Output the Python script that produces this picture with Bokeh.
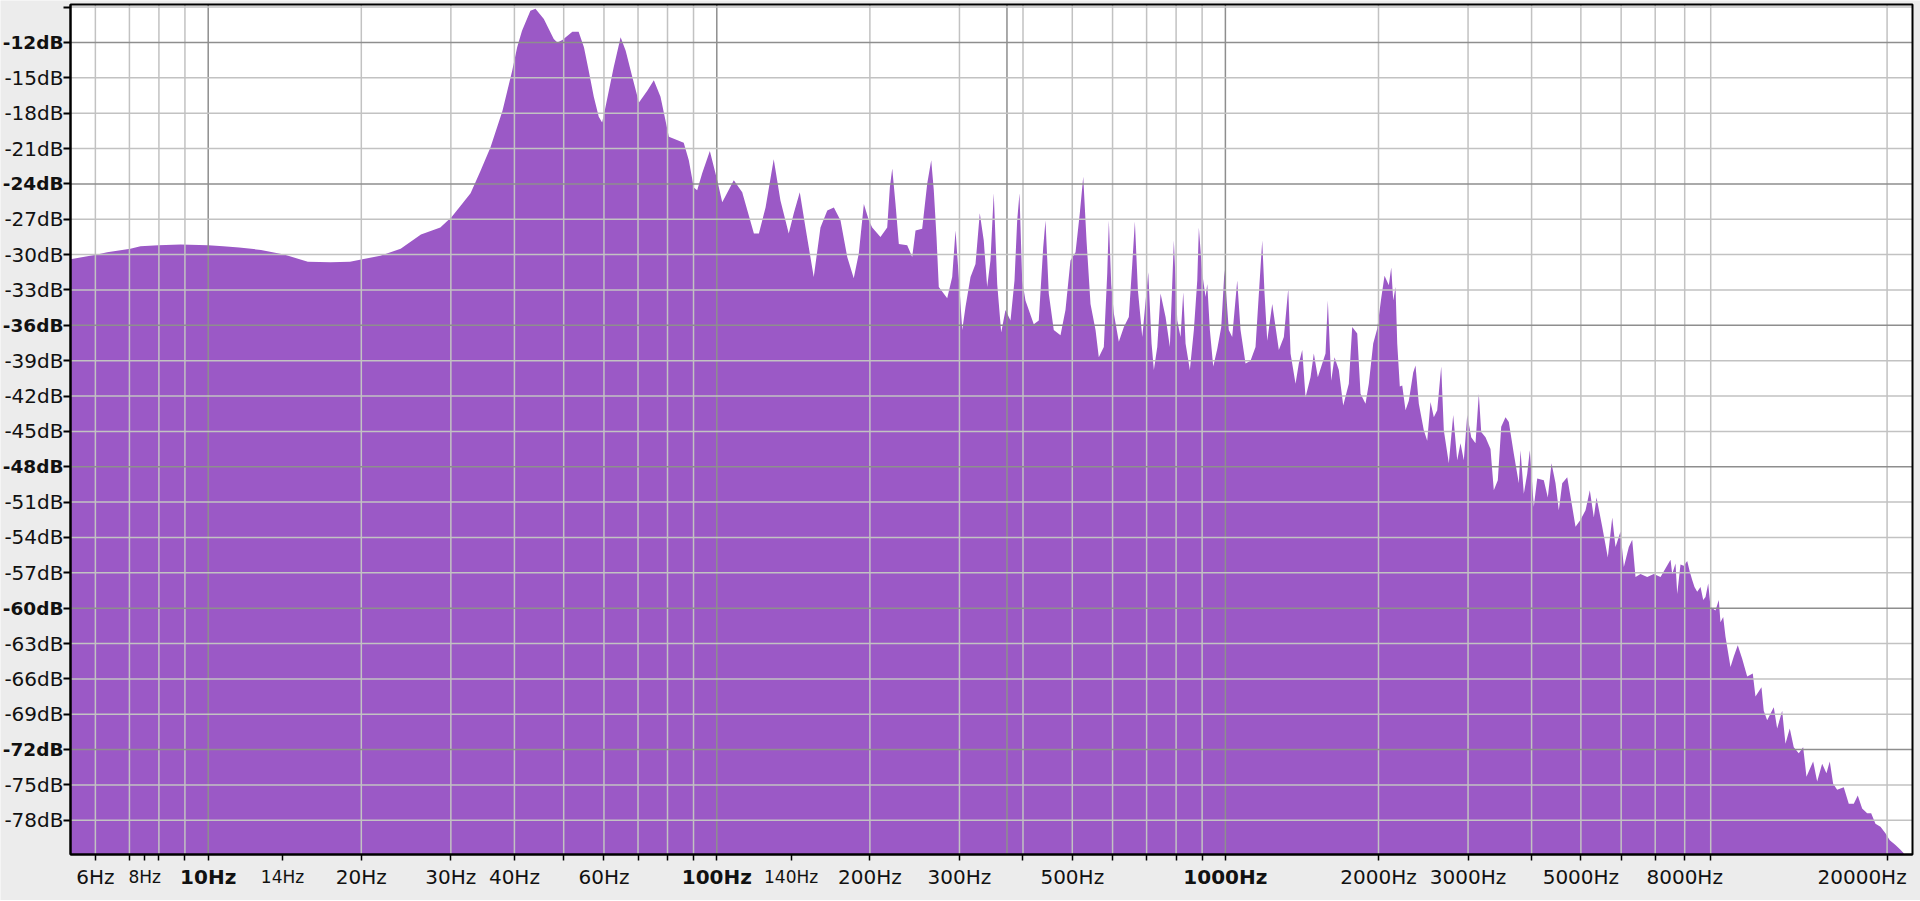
import math
from bokeh.plotting import figure
from bokeh.models import Range1d, FixedTicker, LinearAxis, LogAxis
from bokeh.embed import file_html
from bokeh.resources import INLINE

# ---------------- data ----------------
freq_hz = [
    5.36, 6.05, 6.33, 7.03, 7.36, 7.98, 8.82, 10.0, 10.7, 11.5, 12.7, 14.1, 15.7, 17.4, 19.0,
    20.1, 21.8, 23.9, 26.2, 28.6, 30.1, 31.3, 32.8, 34.3, 35.9, 37.9, 39.6, 40.5, 41.4, 43.0,
    44.0, 45.7, 47.8, 48.6, 49.7, 52.0, 53.5, 54.8, 56.0, 57.3, 58.6, 59.5, 60.4, 62.7, 64.7,
    66.2, 68.2, 70.3, 73.0, 75.2, 77.5, 78.9, 80.5, 86.1, 88.1, 90.1, 91.5, 93.6, 96.9, 100.2,
    102.5, 108.0, 112.2, 118.3, 121.0, 124.7, 129.4, 133.4, 138.5, 141.7, 145.6, 149.4, 155.1,
    159.9, 164.9, 169.9, 175.1, 180.5, 185.9, 190.2, 194.6, 199.1, 202.1, 209.8, 216.3, 218.9,
    221.3, 224.6, 228.0, 236.8, 242.2, 245.9, 253.4, 259.2, 264.0, 267.1, 270.4, 273.2, 283.8,
    290.3, 294.7, 299.1, 303.8, 308.3, 315.4, 322.6, 328.9, 334.9, 340.1, 345.2, 350.4, 355.9,
    362.4, 369.5, 378.0, 384.9, 389.6, 393.7, 398.5, 404.5, 420.0, 429.6, 438.3, 442.9, 449.5,
    459.8, 474.0, 484.8, 495.9, 507.4, 517.3, 525.4, 533.3, 543.0, 555.5, 563.8, 576.7, 585.7,
    590.0, 596.4, 603.5, 617.3, 631.5, 645.9, 656.0, 663.8, 672.9, 686.4, 705.3, 715.9, 723.4,
    734.6, 745.6, 762.7, 777.7, 791.9, 804.2, 816.3, 826.3, 835.0, 851.4, 867.0, 880.4, 886.8,
    900.6, 914.1, 921.2, 932.1, 946.5, 963.8, 981.4, 996.0, 1015.5, 1031.3, 1055.0, 1071.0,
    1095.5, 1120.5, 1146.2, 1158.2, 1181.5, 1193.9, 1208.6, 1236.3, 1254.9, 1273.8, 1303.0,
    1329.2, 1343.1, 1373.8, 1394.5, 1416.1, 1437.4, 1470.3, 1492.4, 1519.7, 1550.3, 1573.6,
    1590.1, 1614.7, 1639.0, 1671.2, 1704.8, 1748.6, 1775.7, 1816.4, 1843.7, 1885.9, 1914.3,
    1952.8, 1988.5, 2024.9, 2055.4, 2095.8, 2118.7, 2138.0, 2160.3, 2177.1, 2202.8, 2226.9,
    2260.4, 2294.4, 2340.6, 2365.1, 2400.7, 2455.6, 2493.7, 2531.2, 2569.3, 2609.1, 2656.8,
    2688.2, 2749.8, 2805.1, 2856.4, 2899.3, 2943.0, 2988.7, 3043.3, 3103.1, 3149.8, 3184.2,
    3246.8, 3321.1, 3371.1, 3432.7, 3486.0, 3554.5, 3608.0, 3690.6, 3775.1, 3804.3, 3861.6,
    3921.5, 3967.9, 4040.4, 4103.1, 4227.5, 4304.8, 4377.6, 4457.6, 4524.7, 4595.0, 4700.2,
    4807.8, 4880.2, 4991.9, 5106.2, 5206.5, 5301.7, 5366.9, 5507.2, 5648.6, 5762.2, 5849.0,
    5982.9, 6073.0, 6212.0, 6308.3, 6403.3, 6549.9, 6751.6, 6956.4, 7170.6, 7503, 7561, 7674,
    7734, 7849, 7967, 8091, 8187, 8277, 8363, 8466, 8594, 8700, 8791, 8899, 8992, 9197, 9335,
    9407, 9523, 9622, 9697, 9843, 9991, 10173, 10378, 10616, 10888, 11022, 11325, 11443, 11621,
    11974, 12160, 12438, 12625, 12873, 13108, 13408, 13678, 13884, 14311, 14573, 14906, 15199,
    15428, 15667, 15954, 16438, 16815, 17200, 17514, 17866, 18275, 18609, 18975, 19409, 19853,
    20244, 20774, 21250, 21570,
]
level_db = [
    -30.4, -30.0, -29.8, -29.5, -29.3, -29.2, -29.15, -29.2, -29.3, -29.4, -29.6, -30.0, -30.6, -30.65, -30.6,
    -30.4, -30.1, -29.5, -28.3, -27.7, -26.8, -25.9, -24.8, -22.9, -20.9, -17.8, -14.4, -12.4, -11.0, -9.3,
    -9.15, -10.0, -11.7, -12.0, -11.8, -11.1, -11.1, -12.4, -14.4, -16.6, -18.3, -18.8, -17.5, -14.1, -11.55,
    -12.7, -14.9, -17.1, -16.1, -15.2, -16.6, -18.2, -20.0, -20.5, -22.0, -24.3, -24.55, -23.1, -21.2, -23.7,
    -25.55, -23.7, -24.7, -28.2, -28.2, -26.0, -21.9, -25.4, -28.2, -26.5, -24.7, -27.7, -31.9,
    -27.7, -26.25, -26.0, -27.1, -30.2, -32.0, -29.9, -25.7, -27.1, -27.7, -28.5, -27.7, -24.3,
    -22.7, -25.7, -29.1, -29.2, -30.2, -27.95, -27.8, -24.0, -22.0, -24.55, -28.5, -32.75, -33.7,
    -31.9, -27.95, -31.9, -36.4, -34.45, -31.9, -30.8, -26.5, -28.8, -32.75, -30.5, -24.8, -32.5,
    -36.6, -34.7, -35.6, -32.2, -27.1, -24.8, -32.2, -33.9, -35.9, -35.6, -29.4, -27.1, -33.3,
    -36.4, -36.85, -34.7, -30.5, -29.8, -26.5, -23.4, -28.8, -34.2, -36.4, -38.7, -37.85, -31.6,
    -27.1, -32.5, -35.0, -37.4, -36.15, -35.3, -30.8, -27.2, -33.0, -37.0, -31.5, -37.55, -39.8,
    -37.85, -33.3, -35.3, -37.85, -28.8, -35.6, -37.0, -33.2, -37.55, -39.8, -36.4, -32.2, -27.7,
    -31.6, -33.6, -32.5, -36.4, -39.5, -38.0, -36.15, -31.3, -36.4, -37.0, -32.2, -36.4,
    -39.25, -39.0, -37.85, -34.7, -28.8, -33.3, -37.3, -34.2, -36.15, -38.1, -37.0,
    -32.9, -38.4, -40.95, -39.25, -38.1, -42.1, -40.4, -38.4, -40.4, -39.25, -38.4,
    -33.9, -40.7, -38.7, -39.8, -42.8, -40.95, -36.15, -36.7, -41.8, -42.65, -40.95,
    -37.55, -36.3, -33.7, -31.8, -32.6, -31.1, -33.9, -32.75, -37.55, -41.2, -41.1,
    -43.2, -42.4, -40.0, -39.4, -42.65, -44.9, -45.8, -42.5, -43.8, -43.2, -39.5,
    -44.9, -47.7, -43.6, -47.45, -46.0, -47.45, -43.6, -45.5, -46.0, -41.8, -45.05,
    -45.5, -46.5, -50.0, -49.15, -44.6, -43.8, -44.2, -46.9, -49.4, -46.6, -50.3,
    -48.6, -46.6, -51.4, -49.0, -49.15, -50.6, -47.7, -49.4, -51.7, -49.4, -48.9,
    -51.4, -53.1, -52.5, -51.7, -50.0, -52.3, -50.6, -53.1, -55.7, -52.3, -54.8,
    -53.5, -56.5, -54.8, -54.2, -57.35, -57.1, -57.35, -57.1, -57.35, -55.9, -57.1, -56.2,
    -58.8, -56.3, -56.4, -56.0, -56.9, -57.6, -58.2, -58.6, -58.2, -59.3, -59.05, -57.9, -59.9, -60.2, -59.3,
    -61.2, -60.75, -62.4, -63.3, -65.0, -64.1, -63.15, -64.3, -65.8, -65.55, -67.5, -66.7, -68.7, -69.5,
    -68.4, -70.2, -68.7, -71.5, -70.2, -71.8, -72.3, -71.8, -74.3, -73.0, -74.7, -73.2, -74.0,
    -73.0, -74.9, -75.4, -75.2, -76.6, -76.6, -75.9, -77.0, -77.4, -77.4, -78.3, -78.55, -79.1,
    -79.7, -80.1, -80.5, -80.8,
]

# axis ticks, labels and grid lines
x_ticks_hz = [6, 7, 7.5, 8, 9, 10, 14, 20, 30, 40, 50, 60, 70, 80, 90, 100, 140, 200, 300,
              400, 500, 600, 700, 800, 900, 1000, 2000, 3000, 4000, 5000, 6000, 7000, 8000,
              9000, 20000]
x_plain_labels = {6: "6Hz", 20: "20Hz", 30: "30Hz", 40: "40Hz", 60: "60Hz", 200: "200Hz",
                  300: "300Hz", 500: "500Hz", 2000: "2000Hz", 3000: "3000Hz",
                  5000: "5000Hz", 8000: "8000Hz"}
x_small_labels = {7.5: "8Hz", 14: "14Hz", 140: "140Hz"}
x_bold_labels = {10: "10Hz", 100: "100Hz", 1000: "1000Hz"}
x_edge_labels = {20000: "20000Hz"}   # drawn shifted left so that it fits in the window
x_grid_light = [6, 7, 8, 9, 20, 30, 40, 50, 60, 70, 80, 90, 200, 300, 400, 500, 600, 700,
                800, 900, 2000, 3000, 4000, 5000, 6000, 7000, 8000, 9000, 20000]
x_grid_dark = [10, 100, 372, 1000]

y_ticks_db = [-78, -75, -72, -69, -66, -63, -60, -57, -54, -51, -48, -45, -42, -39, -36,
              -33, -30, -27, -24, -21, -18, -15, -12, -9]
y_bold_db = [-72, -60, -48, -36, -24, -12]
y_hidden_db = [-9]

# plot area (data range) and its place on the 1920x900 canvas
X_START, X_END = 5.361, 22439
Y_START, Y_END = -80.9, -8.78
CANVAS_W, CANVAS_H = 1920, 900
AREA_L, AREA_R, AREA_T, AREA_B = 70, 1912, 4, 854   # pixel edges of the plot area
EDGE_LABEL_FACTOR = 0.893   # last frequency label sits left of its tick

FILL = "#9b59c6"
GRID_LIGHT = "#c2c2c2"
GRID_DARK = "#8e8e8e"
BG = "#ececec"
FONT = "DejaVu Sans"
TXT = "#111111"
FS = "20px"
FS_BOLD_Y = "18.5px"
FS_SMALL = "17px"
TICK_OUT_X, STANDOFF_X = 6, 4
TICK_OUT_Y, STANDOFF_Y = 7, 0

# view ranges that extend the plot area over the whole canvas (for labels outside it)
lx0, lx1 = math.log10(X_START), math.log10(X_END)
dx = (lx1 - lx0) / (AREA_R - AREA_L)
view_x = Range1d(10 ** (lx0 - AREA_L * dx), 10 ** (lx1 + (CANVAS_W - AREA_R) * dx))
dy = (Y_END - Y_START) / (AREA_B - AREA_T)
view_y = Range1d(Y_START - (CANVAS_H - AREA_B) * dy, Y_END + AREA_T * dy)

p = figure(width=CANVAS_W, height=CANVAS_H, x_axis_type="log",
           x_range=view_x, y_range=view_y,
           x_axis_location=None, y_axis_location=None,
           output_backend="svg", toolbar_location=None,
           min_border_left=0, min_border_right=0, min_border_top=0, min_border_bottom=0)
p.background_fill_color = BG
p.border_fill_color = BG
p.outline_line_color = None
p.xgrid.visible = False
p.ygrid.visible = False

# white plot area
p.quad(left=[X_START], right=[X_END], bottom=[Y_START], top=[Y_END],
       fill_color="white", line_color=None)

# spectrum
p.varea(x=freq_hz, y1=[Y_START] * len(freq_hz), y2=level_db, fill_color=FILL, fill_alpha=1.0)

# grid lines on top of the spectrum, restricted to the plot area
y_light = [t for t in y_ticks_db if t not in y_bold_db]
for xs_, col in [(x_grid_light, GRID_LIGHT), (x_grid_dark, GRID_DARK)]:
    p.segment(x0=xs_, x1=xs_, y0=[Y_START] * len(xs_), y1=[Y_END] * len(xs_),
              line_color=col, line_width=1.5)
for ys_, col in [(y_light, GRID_LIGHT), (y_bold_db, GRID_DARK)]:
    p.segment(x0=[X_START] * len(ys_), x1=[X_END] * len(ys_), y0=ys_, y1=ys_,
              line_color=col, line_width=1.5)

# frame border
p.quad(left=[X_START], right=[X_END], bottom=[Y_START], top=[Y_END],
       fill_color=None, line_color="black", line_width=2)


def style_axis(ax, tick_out, standoff, size, weight, line=True, ticks=True, tick_w=1.5):
    ax.axis_line_color = "black" if line else None
    ax.axis_line_width = 2
    ax.major_tick_line_color = "black" if ticks else None
    ax.major_tick_line_width = tick_w
    ax.major_tick_in = 0
    ax.major_tick_out = tick_out
    ax.minor_tick_line_color = None
    ax.major_label_standoff = standoff
    ax.major_label_text_font = FONT
    ax.major_label_text_font_size = size
    ax.major_label_text_font_style = weight
    ax.major_label_text_color = TXT


def x_axis(ticks, labels, size, weight, standoff, line=False, tick_marks=False):
    ax = LogAxis(fixed_location=Y_START, bounds=(X_START, X_END),
                 ticker=FixedTicker(ticks=ticks),
                 major_label_overrides={float(t): labels.get(t, "") for t in ticks})
    style_axis(ax, TICK_OUT_X, standoff, size, weight, line=line, ticks=tick_marks)
    p.add_layout(ax, "below")


def y_axis(ticks, labels, size, weight, line=False, tick_marks=False):
    ax = LinearAxis(fixed_location=X_START, bounds=(Y_START, Y_END),
                    ticker=FixedTicker(ticks=ticks),
                    major_label_overrides={float(t): labels.get(t, "") for t in ticks})
    style_axis(ax, TICK_OUT_Y, STANDOFF_Y, size, weight, line=line, ticks=tick_marks, tick_w=2)
    p.add_layout(ax, "left")


# frequency axis: ticks + plain labels, then bold, small and edge labels
x_axis(x_ticks_hz, x_plain_labels, FS, "normal", STANDOFF_X, line=True, tick_marks=True)
x_axis(list(x_bold_labels), x_bold_labels, FS, "bold", STANDOFF_X)
x_axis(list(x_small_labels), x_small_labels, FS_SMALL, "normal", STANDOFF_X + 2)
edge_pos = {k * EDGE_LABEL_FACTOR: v for k, v in x_edge_labels.items()}
x_axis(list(edge_pos), edge_pos, FS, "normal", STANDOFF_X)

# level axis: ticks + plain labels, then bold labels
plain_y = {t: f"{t}dB" for t in y_ticks_db if t not in y_bold_db and t not in y_hidden_db}
y_axis(y_ticks_db, plain_y, FS, "normal", line=True, tick_marks=True)
y_axis(y_bold_db, {t: f"{t}dB" for t in y_bold_db}, FS_BOLD_Y, "bold")

html = file_html(p, INLINE)
html = html.replace("<body>", f'<body style="margin:0;background:{BG}">', 1)
open("out.html", "w").write(html)
